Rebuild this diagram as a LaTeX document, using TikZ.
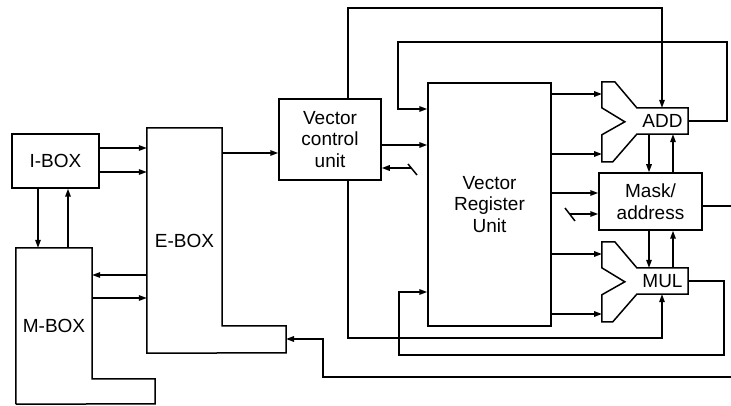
\documentclass[tikz,border=0pt]{standalone}
\usepackage{fontspec}
\setmainfont{Liberation Sans}
\usetikzlibrary{arrows.meta}
\newcommand\lab{\fontsize{19}{21.5}\selectfont}
\newcommand\funnelshape[1]{%
  \draw[lw] (#1.north west) -- ++(-22,-26) -- ++(-13,0) -- ++(0,26) -- ++(23,14)
    -- ++(-23,13) -- ++(0,27) -- ++(11,0) -- (#1.south west) -- (#1.south east)
    -- (#1.north east) -- cycle;}
\begin{document}
\begin{tikzpicture}[x=1pt,y=-1pt,
  lw/.style={line width=1.5pt},
  box/.style={draw,lw,inner sep=0pt,align=center,font=\lab},
  lbl/.style={inner sep=0pt,align=center,font=\lab},
  conn/.style={lw,-{Triangle[length=8pt,width=5.5pt]}}]
\useasboundingbox (0,0) rectangle (731,406);

% nodes
\node[box,minimum width=87pt,minimum height=54pt] (ibox) at (55.5,161) {I-BOX};
\node[lbl,minimum width=75pt,minimum height=225pt] (ebox) at (184.5,240.5) {E-BOX};
\node[lbl,minimum width=76pt,minimum height=156pt] (mbox) at (54,326) {M-BOX};
\node[box,minimum width=102pt,minimum height=81pt] (vcu) at (330,139.5) {Vector\\control\\unit};
\node[box,minimum width=123pt,minimum height=243pt] (vru) at (489.5,204.5) {Vector\\Register\\Unit};
\node[box,minimum width=103pt,minimum height=57pt] (mask) at (650.5,201.5) {Mask/\\address};
\node[lbl,minimum width=51pt,minimum height=26pt] (add) at (662.5,121) {ADD};
\node[lbl,minimum width=51pt,minimum height=26pt] (mul) at (662.5,281) {MUL};

% outlines of irregular shapes
\draw[lw] (ebox.north west) -- (ebox.north east) -- ++(0,198) -- ++(64,0)
  -- ++(0,27) -- (ebox.south west) -- cycle;
\draw[lw] (mbox.south west) -- (mbox.north west) -- (mbox.north east) -- ++(0,131)
  -- ++(63,0) -- ++(0,25) -- (mbox.south west);
\funnelshape{add}
\funnelshape{mul}

% helper coordinates
\coordinate (addL) at (602,121);
\coordinate (mulL) at (602,281);
\coordinate (ebfoot) at (286,339);
\coordinate (s1) at (411,168);
\coordinate (s2) at (570,214);
\coordinate (edgeA) at (731,206);
\coordinate (edgeB) at (731,377);

% I-BOX / E-BOX / M-BOX
\draw[conn] (ibox.east |- 0,148) -- (ebox.west |- 0,148);
\draw[conn] (ibox.east |- 0,172) -- (ebox.west |- 0,172);
\draw[conn] (ibox.south -| 38,0) -- (mbox.north -| 38,0);
\draw[conn] (mbox.north -| 68,0) -- (ibox.south -| 68,0);
\draw[conn] (ebox.west |- 0,275) -- (mbox.east |- 0,275);
\draw[conn] (mbox.east |- 0,298) -- (ebox.west |- 0,298);
\draw[conn] (ebox.east |- 0,153) -- (vcu.west |- 0,153);

% vector control unit
\draw[conn] (vcu.north -| 348,0) -- (348,8) -| (add.north -| 662,0);
\draw[conn] (vcu.east |- 0,145) -- (vru.west |- 0,145);
\draw[conn] (s1) -- (vcu.east |- s1);
\draw[lw] (408,164) -- (417,175);
\draw[conn] (vcu.south -| 348,0) |- (662,338) -- (mul.south -| 662,0);

% register unit to pipes
\draw[conn] (vru.east |- 0,94) -- (addL |- 0,94);
\draw[conn] (vru.east |- 0,154) -- (addL |- 0,154);
\draw[conn] (vru.east |- 0,193) -- (mask.west |- 0,193);
\draw[conn] (vru.east |- 0,254) -- (mulL |- 0,254);
\draw[conn] (vru.east |- 0,314) -- (mulL |- 0,314);
\draw[conn] (s2) -- (mask.west |- s2);
\draw[lw] (565,208) -- (575,221);

% ADD / Mask / MUL
\draw[conn] (add.south -| 649,0) -- (mask.north -| 649,0);
\draw[conn] (mask.north -| 673,0) -- (add.south -| 673,0);
\draw[conn] (mask.south -| 649,0) -- (mul.north -| 649,0);
\draw[conn] (mul.north -| 673,0) -- (mask.south -| 673,0);
\draw[lw] (mask.east |- edgeA) -- (edgeA);

% feedback loops
\draw[conn] (add.east) -- (727,121) |- (398,42) |- (vru.west |- 0,109);
\draw[conn] (mul.east) -- (724,281) |- (399,355) |- (vru.west |- 0,292);
\draw[conn] (edgeB) -| (323,339) -- (ebfoot);
\end{tikzpicture}
\end{document}
